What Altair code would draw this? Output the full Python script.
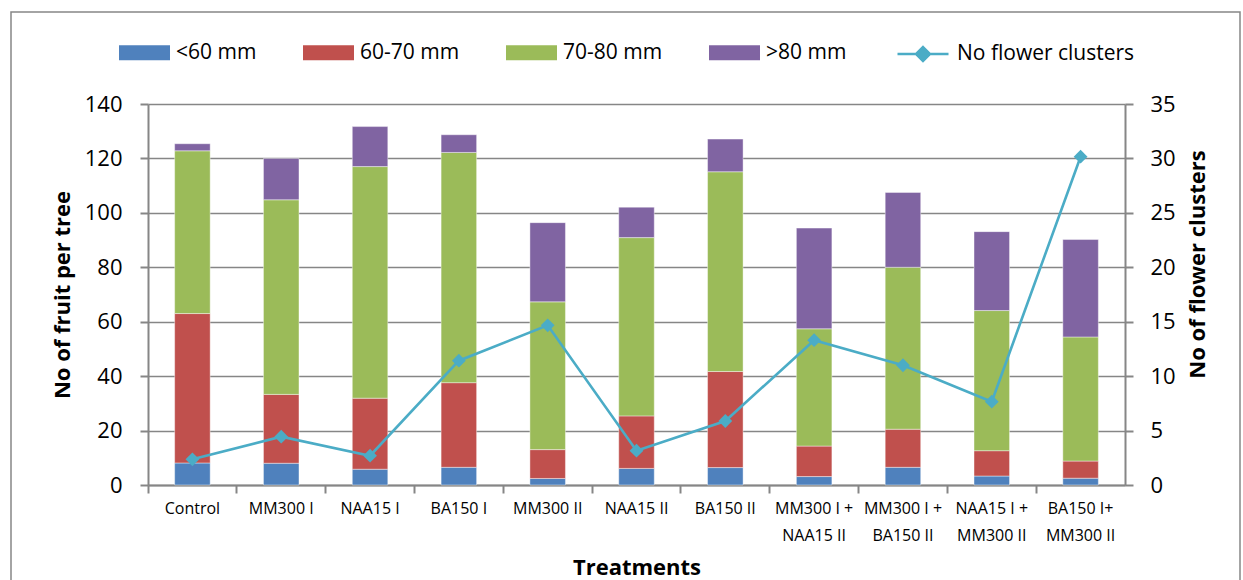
import altair as alt
import pandas as pd

categories = ["Control", "MM300 I", "NAA15 I", "BA150 I", "MM300 II", "NAA15 II",
              "BA150 II", "MM300 I +\nNAA15 II", "MM300 I +\nBA150 II",
              "NAA15 I +\nMM300 II", "BA150 I+\nMM300 II"]
size_classes = ["<60 mm", "60-70 mm", "70-80 mm", ">80 mm"]
lt60 = [8.1, 8.0, 5.8, 6.5, 2.4, 6.1, 6.4, 3.1, 6.5, 3.3, 2.5]
r6070 = [54.9, 25.3, 26.1, 31.1, 10.6, 19.3, 35.3, 11.2, 14.0, 9.3, 6.3]
r7080 = [59.8, 71.5, 85.1, 84.6, 54.3, 65.5, 73.4, 43.1, 59.5, 51.5, 45.6]
gt80 = [2.6, 15.2, 14.7, 6.5, 29.1, 11.2, 12.0, 37.0, 27.5, 29.0, 35.8]
flower_clusters = [2.36, 4.44, 2.69, 11.42, 14.67, 3.15, 5.88, 13.3, 11.0, 7.65, 30.16]
line_name = "No flower clusters"

bar_colors = ["#4F81BD", "#C0504D", "#9BBB59", "#8064A2"]
line_color = "#4BACC6"
gray = "#868686"
FONT = "Open Sans"

rows = []
for k, (cls, vals) in enumerate(zip(size_classes, [lt60, r6070, r7080, gt80])):
    for c, v in zip(categories, vals):
        rows.append({"treatment": c, "size": cls, "fruit": v, "ord": k})
bars_df = pd.DataFrame(rows)
line_df = pd.DataFrame({"treatment": categories, "flowers": flower_clusters,
                        "series": [line_name] * len(categories)})

x_enc = alt.X(
    "treatment:N", sort=categories, title="Treatments",
    scale=alt.Scale(paddingInner=0.6, paddingOuter=0.3),
    axis=alt.Axis(labelAngle=0, labelExpr="split(datum.value, '\\n')",
                  labelFont=FONT, labelFontSize=16, labelColor="black",
                  labelLineHeight=27, labelPadding=7,
                  domainColor=gray, domainWidth=2, tickColor=gray, tickWidth=2,
                  tickSize=8, bandPosition=-0.75, grid=False,
                  titleFont=FONT, titleFontSize=22, titleFontWeight="bold",
                  titleColor="black", titlePadding=14),
)

bars = alt.Chart(bars_df).mark_bar(stroke="white", strokeWidth=0.6, strokeOpacity=0.7).encode(
    x=x_enc,
    y=alt.Y("fruit:Q", stack="zero", title="No of fruit per tree",
            scale=alt.Scale(domain=[0, 140], nice=False),
            axis=alt.Axis(orient="left", values=list(range(0, 141, 20)),
                          labelFont=FONT, labelFontSize=22, labelColor="black",
                          labelPadding=18, tickSize=8, tickColor=gray, tickWidth=2,
                          domainColor=gray, domainWidth=2,
                          grid=True, gridColor=gray, gridWidth=1.6,
                          titleFont=FONT, titleFontSize=22, titleFontWeight="bold",
                          titleColor="black", titlePadding=10)),
    fill=alt.Fill("size:N", scale=alt.Scale(domain=size_classes, range=bar_colors),
                  legend=alt.Legend(orient="none", legendX=-29, legendY=-77,
                                    direction="horizontal", title=None,
                                    symbolType="M-1,-0.294H1V0.294H-1Z",
                                    symbolSize=2601, symbolStrokeWidth=0,
                                    labelFont=FONT, labelFontSize=21,
                                    labelColor="black", labelOffset=6,
                                    columnPadding=46)),
    order=alt.Order("ord:Q", sort="ascending"),
)

y_right = alt.Y("flowers:Q", title="No of flower clusters",
                scale=alt.Scale(domain=[0, 35], nice=False),
                axis=alt.Axis(orient="right", values=list(range(0, 36, 5)),
                              labelFont=FONT, labelFontSize=22, labelColor="black",
                              labelPadding=17, tickSize=8, tickColor=gray, tickWidth=2,
                              domainColor=gray, domainWidth=2, grid=False,
                              titleFont=FONT, titleFontSize=22, titleFontWeight="bold",
                              titleColor="black", titlePadding=12, titleAngle=270,
                              titleBaseline="top", titleY=160))

line = alt.Chart(line_df).mark_line(strokeWidth=2.6).encode(
    x=x_enc,
    y=y_right,
    stroke=alt.Stroke("series:N", scale=alt.Scale(domain=[line_name], range=[line_color]),
                      legend=alt.Legend(orient="none", legendX=748, legendY=-77,
                                        title=None, labelLimit=400,
                                        symbolType="M-1,0H1M0,-0.27L0.27,0L0,0.27L-0.27,0Z",
                                        symbolSize=2601, symbolStrokeWidth=2.6,
                                        symbolFillColor=line_color,
                                        labelFont=FONT, labelFontSize=21,
                                        labelColor="black", labelOffset=7)),
)
points = alt.Chart(line_df).mark_point(shape="diamond", size=190, filled=True,
                                       fill=line_color, opacity=1).encode(
    x=x_enc,
    y=y_right,
)

border = alt.Chart(pd.DataFrame({"a": [0]})).mark_rect(
    fillOpacity=0, stroke=gray, strokeWidth=1.5
).encode(x=alt.value(-137), x2=alt.value(1092), y=alt.value(-92), y2=alt.value(520))

chart = alt.layer(border, bars, alt.layer(line, points)).resolve_scale(
    y="independent"
).properties(
    width=977, height=381,
    padding={"left": 148, "top": 104, "right": 118, "bottom": 95},
    autosize=alt.AutoSizeParams(type="none"),
    background="white",
).configure_view(stroke=None)

chart.save("out.html", embed_options={"renderer": "svg", "actions": False})
